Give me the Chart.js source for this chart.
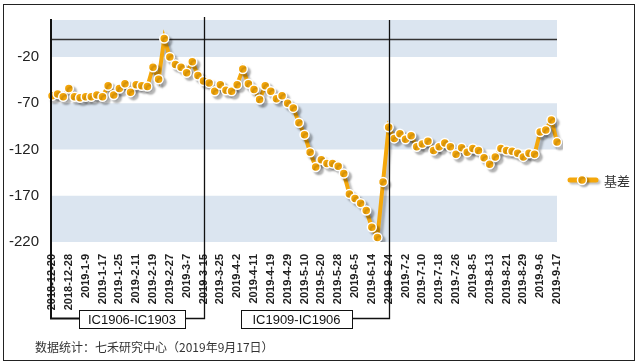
<!DOCTYPE html>
<html lang="zh">
<head>
<meta charset="utf-8">
<title>基差</title>
<script src="https://cdn.jsdelivr.net/npm/chart.js@4.4.1/dist/chart.umd.min.js"></script>
<style>
  body { margin: 0; background: #fff; }
  canvas { display: block; }
</style>
</head>
<body>
<canvas id="myChart" width="638" height="363"></canvas>
<script>
// Fechas (un punto cada dos sesiones)
const fechas = [
  "2018-12-20", "2018-12-24", "2018-12-26", "2018-12-28", "2019-1-3", "2019-1-7", "2019-1-9", "2019-1-11",
  "2019-1-15", "2019-1-17", "2019-1-21", "2019-1-23", "2019-1-25", "2019-1-29", "2019-1-31", "2019-2-11",
  "2019-2-13", "2019-2-15", "2019-2-19", "2019-2-21", "2019-2-25", "2019-2-27", "2019-3-1", "2019-3-5",
  "2019-3-7", "2019-3-11", "2019-3-13", "2019-3-15", "2019-3-19", "2019-3-21", "2019-3-25", "2019-3-27",
  "2019-3-29", "2019-4-2", "2019-4-4", "2019-4-9", "2019-4-11", "2019-4-15", "2019-4-17", "2019-4-19",
  "2019-4-23", "2019-4-25", "2019-4-29", "2019-5-6", "2019-5-8", "2019-5-10", "2019-5-14", "2019-5-16",
  "2019-5-20", "2019-5-22", "2019-5-24", "2019-5-28", "2019-5-30", "2019-6-3", "2019-6-5", "2019-6-10",
  "2019-6-12", "2019-6-14", "2019-6-18", "2019-6-20", "2019-6-24", "2019-6-26", "2019-6-28", "2019-7-2",
  "2019-7-4", "2019-7-8", "2019-7-10", "2019-7-12", "2019-7-16", "2019-7-18", "2019-7-22", "2019-7-24",
  "2019-7-26", "2019-7-30", "2019-8-1", "2019-8-5", "2019-8-7", "2019-8-9", "2019-8-13", "2019-8-15",
  "2019-8-19", "2019-8-21", "2019-8-23", "2019-8-27", "2019-8-29", "2019-9-2", "2019-9-4", "2019-9-6",
  "2019-9-10", "2019-9-12", "2019-9-17"
];

// Serie de base (基差)
const jicha = [
  -62, -60, -63, -54, -63, -64, -63, -63, -61, -63,
  -51, -61, -54, -49, -58, -50, -51, -52, -31, -44,
  0, -20, -28, -31, -37, -25, -40, -46, -48, -57,
  -50, -56, -57, -50, -33, -49, -55, -66, -51, -57,
  -65, -62, -70, -75, -91, -104, -123, -139, -131, -135,
  -135, -138, -146, -168, -173, -178, -186, -204, -215, -155,
  -96, -108, -103, -109, -105, -117, -114, -111, -121, -117,
  -113, -117, -125, -118, -123, -119, -121, -129, -136, -128,
  -119, -121, -122, -124, -128, -124, -125, -101, -99, -88,
  -112
];

const yTicks = [-220, -170, -120, -70, -20];
const bandas = [[20, -20], [-70, -120], [-170, -220]];
const cambios = ["2019-3-15", "2019-6-24"]; // cambio de contrato
const contratos = ["IC1906-IC1903", "IC1909-IC1906"];
const fuente = "数据统计：七禾研究中心（2019年9月17日）";

const naranja = "#f4a70b";

const decoracion = {
  id: "decoracion",
  beforeDatasetsDraw(chart) {
    const { ctx, chartArea: a, scales: { y } } = chart;
    ctx.save();
    ctx.fillStyle = "#dbe5f0";
    bandas.forEach(([hi, lo]) => {
      const y1 = y.getPixelForValue(hi), y2 = y.getPixelForValue(lo);
      ctx.fillRect(a.left, y1, a.right - a.left, y2 - y1);
    });
    // línea del cero
    const y0 = Math.round(y.getPixelForValue(0)) + 0.5;
    ctx.strokeStyle = "#333";
    ctx.lineWidth = 1.5;
    ctx.beginPath();
    ctx.moveTo(a.left, y0);
    ctx.lineTo(a.right, y0);
    ctx.stroke();
    ctx.restore();

    // sombra de la serie
    ctx.save();
    ctx.shadowColor = "rgba(0,0,0,0.25)";
    ctx.shadowOffsetX = 3;
    ctx.shadowOffsetY = 3;
    ctx.shadowBlur = 2;
  },
  afterDatasetsDraw(chart) {
    const { ctx, chartArea: a, scales: { x } } = chart;
    ctx.restore();
    ctx.save();

    const yc = 318.5;
    const v1 = Math.round(x.getPixelForValue(fechas.indexOf(cambios[0]))) + 0.5;
    const v2 = Math.round(x.getPixelForValue(fechas.indexOf(cambios[1]))) + 0.5;
    const cajas = [[79, 185], [241, 352]];

    ctx.strokeStyle = "#111";
    // eje izquierdo prolongado hasta la primera caja
    ctx.lineWidth = 2;
    ctx.beginPath();
    ctx.moveTo(a.left - 1, a.top - 1);
    ctx.lineTo(a.left - 1, yc);
    ctx.lineTo(cajas[0][0], yc);
    ctx.stroke();

    ctx.lineWidth = 1.3;
    ctx.beginPath();
    ctx.moveTo(cajas[0][1], yc);
    ctx.lineTo(v1, yc);
    ctx.lineTo(v1, 17);
    ctx.moveTo(cajas[1][1], yc);
    ctx.lineTo(v2, yc);
    ctx.lineTo(v2, 20);
    ctx.stroke();

    // cajas de contratos
    ctx.lineWidth = 1;
    ctx.font = "13px 'Liberation Sans', Arial, sans-serif";
    ctx.fillStyle = "#111";
    ctx.textAlign = "center";
    ctx.textBaseline = "middle";
    cajas.forEach(([l, r], i) => {
      ctx.fillStyle = "#fff";
      ctx.fillRect(l, 310, r - l, 18);
      ctx.strokeRect(l + 0.5, 310.5, r - l, 18);
      ctx.fillStyle = "#111";
      ctx.fillText(contratos[i], (l + r) / 2, 320);
    });

    // leyenda
    ctx.save();
    ctx.shadowColor = "rgba(0,0,0,0.25)";
    ctx.shadowOffsetX = 2;
    ctx.shadowOffsetY = 2;
    ctx.shadowBlur = 2;
    ctx.strokeStyle = naranja;
    ctx.lineWidth = 5;
    ctx.lineCap = "round";
    ctx.beginPath();
    ctx.moveTo(570, 180);
    ctx.lineTo(596, 180);
    ctx.stroke();
    ctx.fillStyle = naranja;
    ctx.strokeStyle = "#fff";
    ctx.lineWidth = 1.5;
    ctx.beginPath();
    ctx.arc(582, 180, 4.5, 0, Math.PI * 2);
    ctx.fill();
    ctx.stroke();
    ctx.restore();

    ctx.fillStyle = "#333";
    ctx.textAlign = "left";
    ctx.font = "13px 'Noto Sans CJK SC', sans-serif";
    ctx.fillText("基差", 604, 181);

    // fuente
    ctx.font = "12px 'Noto Sans CJK SC', sans-serif";
    ctx.fillText(fuente, 35, 347);

    // marco exterior
    ctx.strokeStyle = "#222";
    ctx.lineWidth = 1;
    ctx.strokeRect(3.5, 4.5, 631, 356);
    ctx.restore();
  }
};

const ctx = document.getElementById("myChart").getContext("2d");
const chart = new Chart(ctx, {
  type: "line",
  data: {
    labels: fechas,
    datasets: [{
      label: "基差",
      data: jicha,
      borderColor: naranja,
      backgroundColor: naranja,
      borderWidth: 4,
      pointRadius: 4.5,
      pointBackgroundColor: naranja,
      pointBorderColor: "#fff",
      pointBorderWidth: 1.5,
      tension: 0
    }]
  },
  options: {
    responsive: false,
    devicePixelRatio: 1,
    animation: false,
    layout: { padding: { left: 0, top: 20, right: 81, bottom: 51 } },
    plugins: {
      legend: { display: false },
      tooltip: { enabled: false }
    },
    scales: {
      x: {
        offset: false,
        grid: { display: false },
        border: { display: false },
        afterFit: (s) => { s.height = 70; },
        ticks: {
          autoSkip: false,
          maxRotation: 90,
          minRotation: 90,
          padding: 4,
          color: "#222",
          font: { family: "'Liberation Sans', Arial, sans-serif", size: 11, weight: "bold" },
          callback: (v) => (v % 3 === 0 ? fechas[v] : "")
        }
      },
      y: {
        min: -220,
        max: 20,
        grid: { display: false },
        border: { display: false },
        afterFit: (s) => { s.width = 52; },
        afterBuildTicks: (s) => { s.ticks = yTicks.map(v => ({ value: v })); },
        ticks: {
          padding: 5,
          color: "#222",
          font: { family: "'Liberation Sans', Arial, sans-serif", size: 15 }
        }
      }
    }
  },
  plugins: [decoracion]
});
</script>
</body>
</html>
